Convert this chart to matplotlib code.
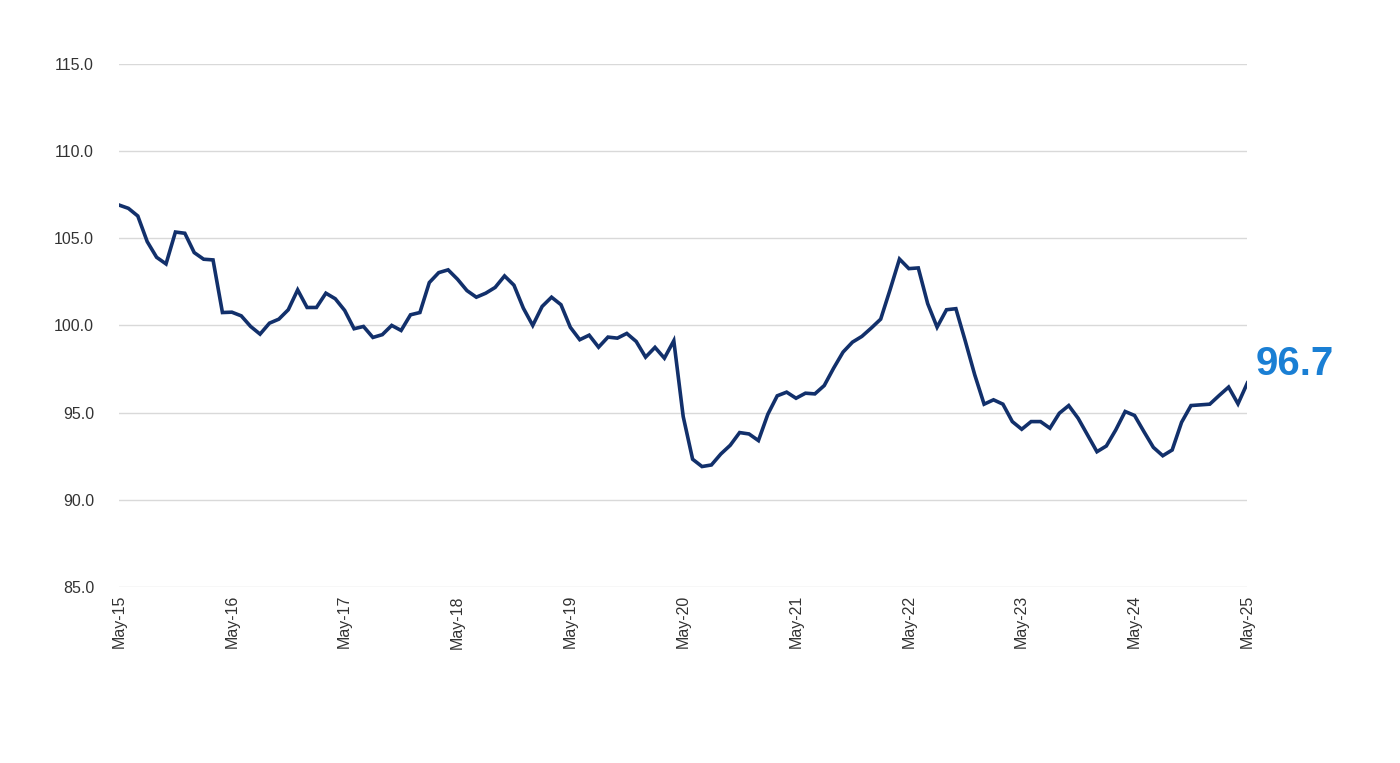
import matplotlib
matplotlib.use("Agg")
import matplotlib.pyplot as plt
import numpy as np

plt.rcParams['font.family'] = ['Liberation Sans', 'DejaVu Sans']

# monthly index, May-15 .. May-25
values = [106.91, 106.72, 106.28, 104.81, 103.91, 103.53, 105.36, 105.29, 104.18, 103.80,
          103.76, 100.74, 100.76, 100.55, 99.94, 99.50, 100.13, 100.36, 100.90, 102.04,
          101.03, 101.03, 101.85, 101.53, 100.86, 99.81, 99.94, 99.31, 99.47, 100.0,
          99.71, 100.61, 100.74, 102.46, 103.03, 103.19, 102.65, 102.0, 101.62, 101.85,
          102.18, 102.84, 102.31, 100.99, 100.0, 101.09, 101.62, 101.19, 99.89, 99.18,
          99.44, 98.75, 99.33, 99.27, 99.54, 99.08, 98.18, 98.74, 98.12, 99.12,
          94.77, 92.32, 91.90, 91.99, 92.62, 93.12, 93.85, 93.77, 93.39, 94.90,
          95.96, 96.17, 95.82, 96.11, 96.07, 96.55, 97.55, 98.47, 99.04, 99.37,
          99.85, 100.36, 102.05, 103.81, 103.26, 103.30, 101.25, 99.90, 100.90, 100.96,
          99.10, 97.17, 95.48, 95.73, 95.48, 94.48, 94.04, 94.48, 94.48, 94.10,
          94.96, 95.40, 94.67, 93.71, 92.75, 93.08, 94.0, 95.06, 94.83, 93.90,
          93.0, 92.52, 92.85, 94.44, 95.40, 95.44, 95.48, 95.98, 96.46, 95.50,
          96.7]
tick_labels = ["May-15", "May-16", "May-17", "May-18", "May-19", "May-20",
               "May-21", "May-22", "May-23", "May-24", "May-25"]
last_label = "96.7"

fig = plt.figure(figsize=(14, 7.63), dpi=100)
ax = fig.add_axes([0.085, 0.231, 0.806, 0.685])

x = np.arange(len(values))
ax.plot(x, values, color="#12306b", lw=2.6, solid_joinstyle="miter", zorder=3)

ax.set_xlim(0, len(values) - 1)
ax.set_ylim(85, 115)
ax.set_yticks(np.arange(85, 116, 5))
ax.set_yticklabels(["%.1f" % v for v in np.arange(85, 116, 5)])
ax.set_xticks(np.arange(0, len(values), 12))
ax.set_xticklabels(tick_labels, rotation=90)
ax.tick_params(axis="both", length=0, labelsize=11.5, colors="#333333")
ax.tick_params(axis="y", pad=18)
ax.tick_params(axis="x", pad=6)
ax.grid(axis="y", color="#d9d9d9", lw=1)
for s in ax.spines.values():
    s.set_visible(False)

ax.annotate(last_label, (x[-1], values[-1]), xytext=(6, 0), textcoords="offset points",
            fontsize=29, fontweight="bold", color="#1a7fd4", va="bottom", ha="left",
            annotation_clip=False)

fig.savefig("out.png", dpi=100)
